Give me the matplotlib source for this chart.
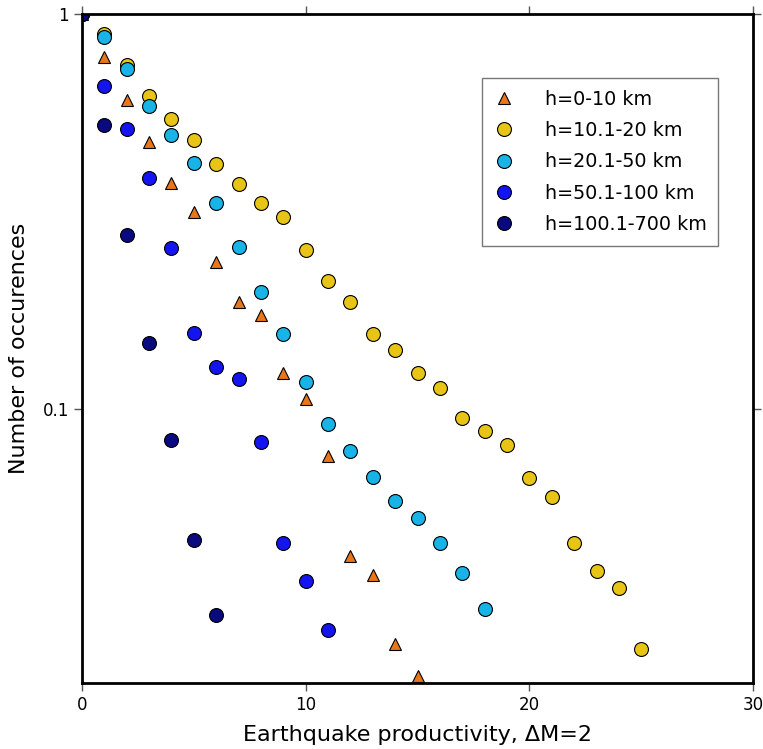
import numpy as np
import matplotlib
matplotlib.use("Agg")
import matplotlib.pyplot as plt

# number of occurrences vs productivity, per depth range
x_shallow = list(range(0, 16))
y_shallow = [1.0, 0.778, 0.606, 0.474, 0.373, 0.315, 0.236, 0.187, 0.173,
             0.123, 0.106, 0.076, 0.0425, 0.038, 0.0254, 0.0211]

x_mid = list(range(0, 26))
y_mid = [1.0, 0.890, 0.743, 0.620, 0.542, 0.480, 0.417, 0.371, 0.332, 0.306,
         0.253, 0.211, 0.187, 0.155, 0.141, 0.123, 0.113, 0.0949, 0.0880,
         0.0811, 0.0669, 0.0598, 0.0458, 0.0389, 0.0352, 0.0247]

x_inter = list(range(0, 19))
y_inter = [1.0, 0.875, 0.726, 0.585, 0.494, 0.420, 0.332, 0.257, 0.198,
           0.155, 0.117, 0.0916, 0.0783, 0.0673, 0.0585, 0.0530, 0.0458,
           0.0384, 0.0312]

x_deep = list(range(0, 12))
y_deep = [1.0, 0.657, 0.512, 0.384, 0.256, 0.156, 0.128, 0.119, 0.0824,
          0.0458, 0.0367, 0.0276]

x_vdeep = list(range(0, 7))
y_vdeep = [1.0, 0.524, 0.276, 0.147, 0.0835, 0.0466, 0.0301]

labels = ['h=0-10 km', 'h=10.1-20 km', 'h=20.1-50 km',
          'h=50.1-100 km', 'h=100.1-700 km']

fig = plt.figure(figsize=(7.63, 7.49), dpi=100)
ax = fig.add_axes([0.1075, 0.088, 0.8795, 0.893])

ax.plot(x_shallow, y_shallow, '^', color='#e8761a', mec='black', mew=0.8,
        ms=8, label=labels[0])
ax.plot(x_mid, y_mid, 'o', color='#e8c416', mec='black', mew=0.8,
        ms=10, label=labels[1])
ax.plot(x_inter, y_inter, 'o', color='#18b4e8', mec='black', mew=0.8,
        ms=10, label=labels[2])
ax.plot(x_deep, y_deep, 'o', color='#1414f0', mec='black', mew=0.8,
        ms=10, label=labels[3])
ax.plot(x_vdeep, y_vdeep, 'o', color='#0a0a80', mec='black', mew=0.8,
        ms=10, label=labels[4])

ax.set_yscale('log')
ax.set_xlim(0, 30)
ax.set_ylim(0.0202, 1)
ax.set_xticks([0, 10, 20, 30])
ax.set_yticks([0.1, 1])
ax.set_yticklabels(['0.1', '1'])
ax.yaxis.set_minor_locator(matplotlib.ticker.NullLocator())
ax.tick_params(direction='out', length=6, width=1, color='#555555',
               top=True, right=True, labelsize=12)
for s in ax.spines.values():
    s.set_linewidth(2)

ax.set_xlabel('Earthquake productivity, ΔM=2', fontsize=16, labelpad=8)
ax.set_ylabel('Number of occurences', fontsize=16, labelpad=10)

leg = ax.legend(loc='upper right', bbox_to_anchor=(0.948, 0.904),
                numpoints=1, fontsize=13.8, fancybox=False,
                handlelength=1.1, handletextpad=1.6, borderpad=0.6,
                labelspacing=0.64, borderaxespad=0)
leg.get_frame().set_edgecolor('#555555')

fig.savefig('out.png', dpi=100)
